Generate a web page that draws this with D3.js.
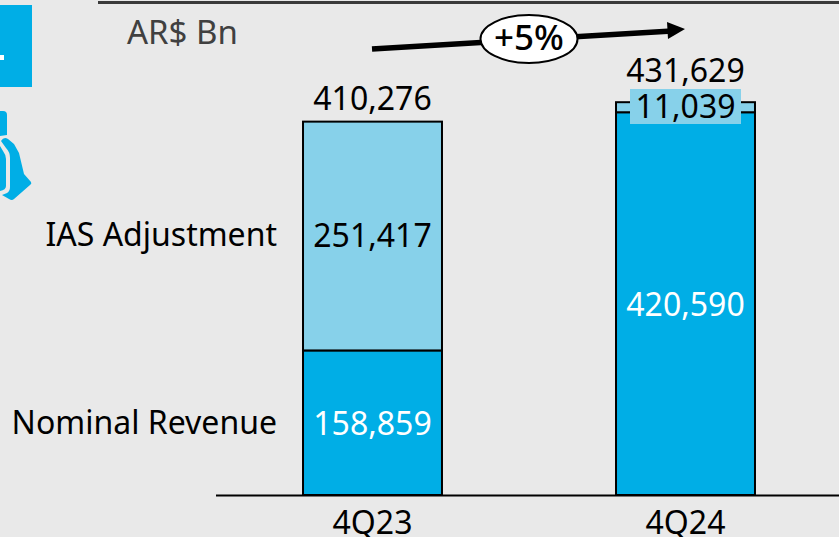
<!DOCTYPE html>
<html><head><meta charset="utf-8">
<script src="https://cdn.jsdelivr.net/npm/d3@7/dist/d3.min.js"></script>
<style>html,body{margin:0;padding:0;background:#e9e9e9}svg{display:block}text{font-family:"Noto Sans","Open Sans",sans-serif}</style>
</head><body><svg id="c" width="839" height="537"></svg>
<script>
const categories = ["4Q23","4Q24"];
const seriesNames = ["Nominal Revenue","IAS Adjustment"];
const nominalRevenue = [158859,420590];
const iasAdjustment = [251417,11039];
const totals = [410276,431629];
const unitLabel = "AR$ Bn";
const growthLabel = "+5%";
const colors = ["#00aee6","#87d1ea"];

const svg = d3.select("#c");
const fmt = d3.format(",");
const x = d3.scaleBand().domain(categories).range([216,842]).paddingInner(0.556).paddingOuter(0.278);
const y = d3.scaleLinear().domain([0,431629]).range([495,102.2]);
const fs = 32;

svg.append("line").attr("x1",98).attr("x2",839).attr("y1",2.5).attr("y2",2.5).attr("stroke","#3a3a3a").attr("stroke-width",3);
svg.append("rect").attr("x",0).attr("y",5).attr("width",32).attr("height",82).attr("fill",colors[0]);
svg.append("rect").attr("x",0).attr("y",55).attr("width",4).attr("height",5).attr("fill","#fff");
svg.append("path").attr("d","M0,111H3Q7,111 7,115V135L0,136Z").attr("fill",colors[0]);
svg.append("path").attr("d","M1,141Q4,136 8,139L14,144L19,153L24,174L31,182Q32,184 30,185L14,199Q12,201 9,199L2,195L7,193Q10,191 10,187V158Q10,152 6,148Z").attr("fill",colors[0]);
svg.append("path").attr("d","M0,146L3,151Q6,155 6,159V186Q6,190 0,191Z").attr("fill",colors[0]);

svg.append("text").attr("x",127).attr("y",44).attr("font-size",33).attr("fill","#404040").text(unitLabel);

const stack = d3.stack().keys([0,1]).value((d,k)=>d[k]);
const rows = categories.map((c,i)=>[nominalRevenue[i],iasAdjustment[i]]);
stack(rows).forEach((s,k)=>{
  svg.append("g").selectAll("rect").data(s).join("rect")
    .attr("x",(d,i)=>x(categories[i]))
    .attr("width",x.bandwidth())
    .attr("y",d=>y(d[1]))
    .attr("height",d=>y(d[0])-y(d[1]))
    .attr("fill",colors[k]).attr("stroke","#000").attr("stroke-width",2);
});

const axis = d3.axisBottom(x).tickSize(0).tickPadding(12);
const ag = svg.append("g").attr("transform","translate(0,495)").call(axis);
ag.select(".domain").remove();
ag.selectAll("text").attr("font-size",fs).attr("fill","#000").attr("dy",0).attr("y",39).style("font-family",'"Noto Sans","Open Sans",sans-serif');
svg.append("line").attr("x1",216).attr("x2",839).attr("y1",495.5).attr("y2",495.5).attr("stroke","#000").attr("stroke-width",2);

const cx = i=>x(categories[i])+x.bandwidth()/2;
const label=(t,px,py,col,anchor)=>svg.append("text").attr("x",px).attr("y",py).attr("text-anchor",anchor||"middle").attr("font-size",fs).attr("fill",col).text(t);

label(fmt(iasAdjustment[0]),cx(0),247,"#000");
label(fmt(nominalRevenue[0]),cx(0),435,"#fff");
label(fmt(nominalRevenue[1]),cx(1),316,"#fff");
svg.append("rect").attr("x",630).attr("y",89).attr("width",111).attr("height",35).attr("fill",colors[1]);
label(fmt(iasAdjustment[1]),cx(1),118,"#000");

totals.forEach((t,i)=>label(fmt(t),cx(i),i?82:110,"#000"));

label(seriesNames[1],277,246,"#000","end");
label(seriesNames[0],277,434,"#000","end");

svg.append("line").attr("x1",372).attr("y1",49).attr("x2",672).attr("y2",31).attr("stroke","#000").attr("stroke-width",5.5);
svg.append("path").attr("d","M667,22L685,29L668,39Z").attr("fill","#000");
svg.append("ellipse").attr("cx",529).attr("cy",39).attr("rx",48.5).attr("ry",24).attr("fill","#fff").attr("stroke","#000").attr("stroke-width",2);
svg.append("text").attr("x",529).attr("y",50).attr("text-anchor","middle").attr("font-size",35).attr("font-weight",500).attr("fill","#000").text(growthLabel);
</script></body></html>
